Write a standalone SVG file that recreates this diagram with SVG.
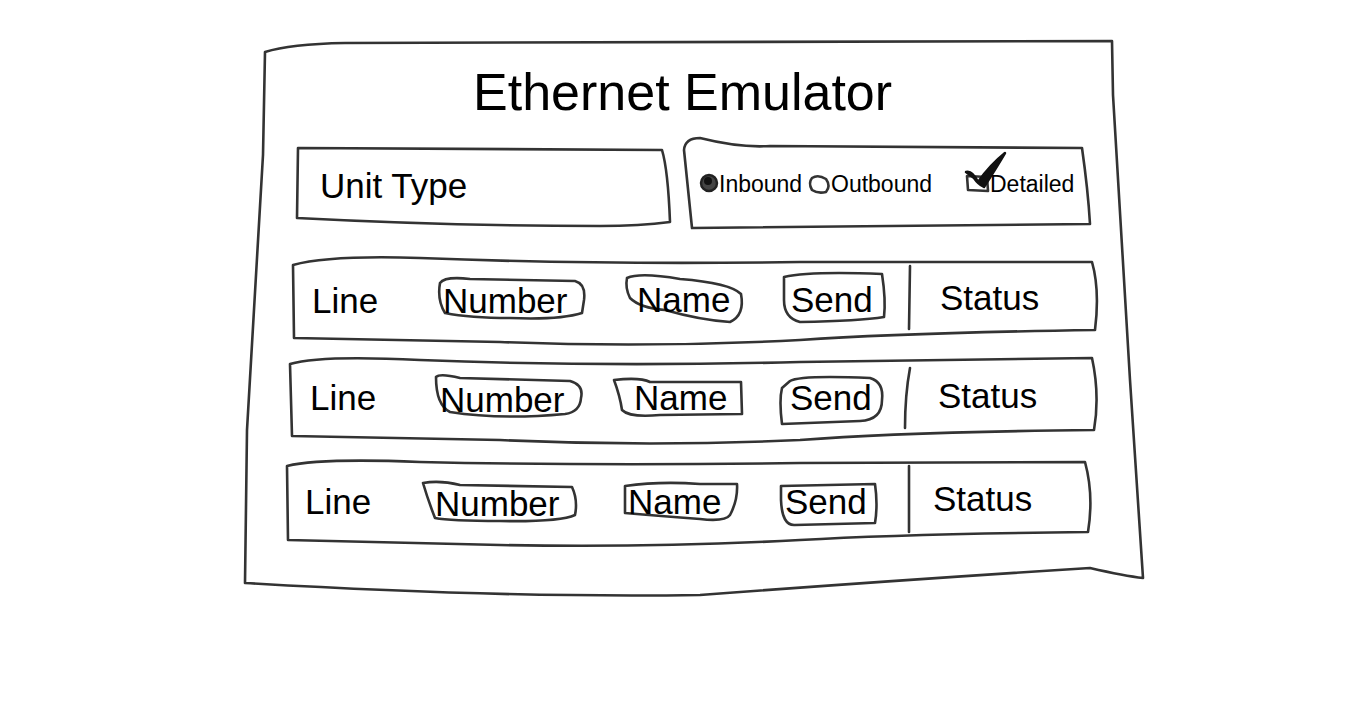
<svg xmlns="http://www.w3.org/2000/svg" width="1366" height="723" viewBox="0 0 1366 723">
<style>
.s{fill:none;stroke:#333;stroke-width:2.6;stroke-linecap:round;stroke-linejoin:round}
.t{font-family:"Liberation Sans",Arial,sans-serif;fill:#000}
.lbl{font-size:35px}
.opt{font-size:23px}
</style>
<rect width="1366" height="723" fill="#fff"/>
<g id="frame">
<path class="s" d="M263,155 L265,52 Q290,44 345,43 L1112,41 L1113,95 L1130,380 L1143,578 Q1125,576 1090,568 Q900,580 700,595 Q500,598 245,583 L247,430 L263,155"/>
<text class="t" x="473" y="110" font-size="52">Ethernet Emulator</text>
</g>
<g id="unit-type">
<path class="s" d="M298,148 L662,150 Q668,170 670,222 Q640,226 600,226 Q450,226 297,218 L298,148 Z"/>
<text class="t lbl" x="320" y="198">Unit Type</text>
</g>
<g id="options">
<path class="s" d="M692,228 L684,150 Q685,138 700,138 Q740,148 770,146 L1082,148 Q1088,190 1090,224 Q900,226 692,228"/>
<circle cx="709" cy="183" r="8" fill="#444" stroke="#222" stroke-width="2.5"/>
<circle cx="708" cy="181" r="4" fill="#111"/>
<text class="t opt" x="719" y="192">Inbound</text>
<path class="s" d="M812,178 Q818,174 826,179 Q831,186 826,192 Q818,194 812,190 Q808,183 812,178 Z"/>
<text class="t opt" x="831" y="192">Outbound</text>
<path class="s" d="M967,176 L987,177 L988,191 L968,190 Z"/>
<path d="M966,172 Q972,170 978,182 Q990,165 1005,153 Q998,165 984,187 Q978,184 974,178 Q970,175 966,172 Z" fill="#111" stroke="#111" stroke-width="2.5" stroke-linejoin="round"/>
<text class="t opt" x="990" y="192">Detailed</text>
</g>
<g id="row1">
<path class="s" d="M293,265 Q330,255 420,258 Q600,265 800,262 L1092,262 Q1100,290 1095,330 Q900,333 800,340 Q650,348 500,342 L294,338 Z"/>
<path class="s" d="M910,266 L909,329"/>
<path class="s" d="M440,283 Q445,276 470,279 L575,281 Q586,284 584,300 L582,313 Q560,320 510,318 Q470,318 445,313 Q437,300 440,283 Z"/>
<path class="s" d="M627,278 Q640,272 680,279 Q730,283 741,294 Q745,315 730,322 Q700,320 665,310 Q640,308 630,298 Q625,288 627,278 Z"/>
<path class="s" d="M784,277 Q810,271 882,274 Q886,300 884,317 Q860,321 800,322 Q784,318 784,300 Z"/>
<text class="t lbl" x="312" y="313">Line</text>
<text class="t lbl" x="443" y="313">Number</text>
<text class="t lbl" x="637" y="312">Name</text>
<text class="t lbl" x="791" y="312">Send</text>
<text class="t lbl" x="940" y="310">Status</text>
</g>
<g id="row2">
<path class="s" d="M290,364 Q320,355 420,360 Q600,367 800,362 L1092,358 Q1100,395 1094,430 Q900,432 800,440 Q650,447 500,440 L292,436 Z"/>
<path class="s" d="M910,368 Q905,395 905,428"/>
<path class="s" d="M436,377 Q440,373 460,378 L570,381 Q584,385 581,398 Q580,412 565,414 Q500,420 450,412 Q436,405 436,377 Z"/>
<path class="s" d="M614,380 Q640,377 650,382 L741,382 L742,414 L660,415 Q630,418 622,410 Q620,396 614,380 Z"/>
<path class="s" d="M790,381 Q800,375 870,378 Q884,382 882,400 Q882,420 860,421 L782,424 Q779,400 782,388 Z"/>
<text class="t lbl" x="310" y="410">Line</text>
<text class="t lbl" x="440" y="412">Number</text>
<text class="t lbl" x="634" y="410">Name</text>
<text class="t lbl" x="790" y="410">Send</text>
<text class="t lbl" x="938" y="408">Status</text>
</g>
<g id="row3">
<path class="s" d="M287,466 Q320,458 420,462 Q600,466 800,463 L1085,462 Q1094,495 1088,532 Q900,534 800,540 Q650,548 500,545 L288,540 Z"/>
<path class="s" d="M909,466 L909,532"/>
<path class="s" d="M423,483 Q440,480 460,485 L572,487 Q578,500 575,515 Q560,522 500,521 Q450,521 435,518 Q428,500 423,483 Z"/>
<path class="s" d="M625,486 Q660,481 700,484 L737,484 Q738,500 730,515 Q725,522 700,519 Q660,516 625,513 Z"/>
<path class="s" d="M781,486 L875,484 Q878,505 875,523 L795,525 Q782,526 781,500 Z"/>
<text class="t lbl" x="305" y="514">Line</text>
<text class="t lbl" x="435" y="516">Number</text>
<text class="t lbl" x="628" y="514">Name</text>
<text class="t lbl" x="785" y="514">Send</text>
<text class="t lbl" x="933" y="511">Status</text>
</g>
<g id="connectors"></g>
</svg>
